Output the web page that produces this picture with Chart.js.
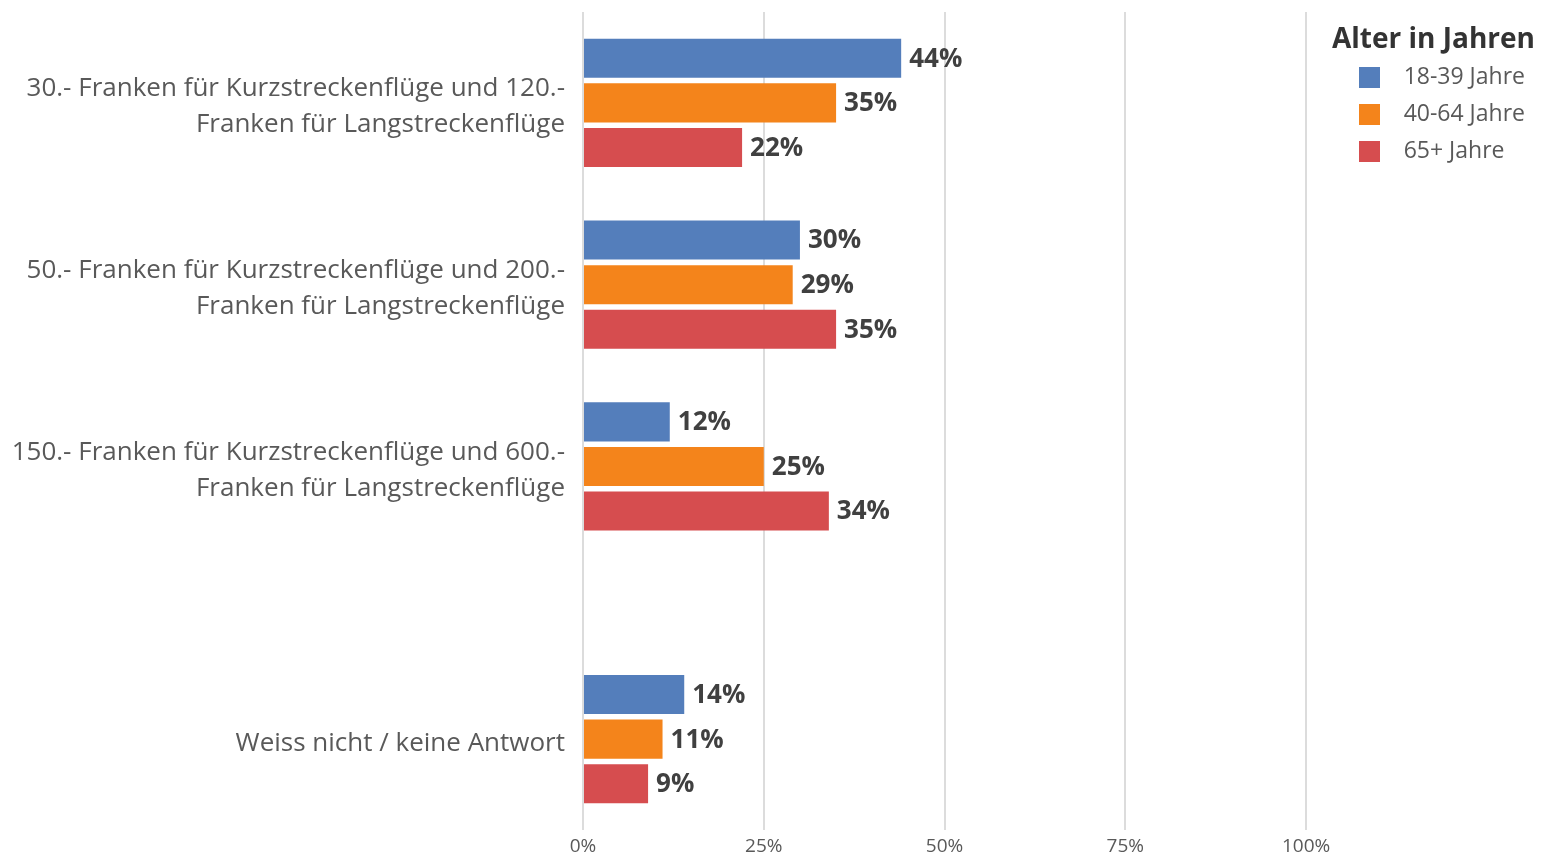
<!DOCTYPE html>
<html>
<head>
<meta charset="utf-8">
<script src="https://cdn.jsdelivr.net/npm/chart.js@4.4.1/dist/chart.umd.min.js"></script>
<style>
html, body { margin: 0; padding: 0; background: #fff; }
#wrap { width: 1541px; height: 853px; }
</style>
</head>
<body>
<div id="wrap"><canvas id="bar-chart"></canvas></div>
<script>
// data
const categories = [
    ['30.- Franken für Kurzstreckenflüge und 120.-', 'Franken für Langstreckenflüge'],
    ['50.- Franken für Kurzstreckenflüge und 200.-', 'Franken für Langstreckenflüge'],
    ['150.- Franken für Kurzstreckenflüge und 600.-', 'Franken für Langstreckenflüge'],
    'Weiss nicht / keine Antwort'
];
const seriesNames = ['18-39 Jahre', '40-64 Jahre', '65+ Jahre'];
const age18to39 = [44, 30, 12, 14];
const age40to64 = [35, 29, 25, 11];
const age65plus = [22, 35, 34, 9];
const xTicks = [0, 25, 50, 75, 100];
const legendTitle = 'Alter in Jahren';

// layout: which row of the axis each category sits on (gap before the last one)
const rowCount = 10;
const rowOf = [1, 3, 5, 8];
const colors = ['#547EBB', '#F4841B', '#D64D4F'];
const font = 'Open Sans';

function spread(values) {
    const out = new Array(rowCount).fill(null);
    rowOf.forEach((r, i) => { out[r] = values[i]; });
    return out;
}

function swatch(color) {
    const c = document.createElement('canvas');
    c.width = 21;
    c.height = 21;
    const g = c.getContext('2d');
    g.fillStyle = color;
    g.fillRect(0, 0, 21, 21);
    return c;
}

const valueLabels = {
    id: 'valueLabels',
    afterDatasetsDraw(chart) {
        const ctx = chart.ctx;
        ctx.save();
        ctx.font = 'bold 26px "' + font + '"';
        ctx.fillStyle = '#404040';
        ctx.textAlign = 'left';
        ctx.textBaseline = 'middle';
        chart.data.datasets.forEach((ds, i) => {
            chart.getDatasetMeta(i).data.forEach((bar, j) => {
                const v = ds.data[j];
                if (v === null || v === undefined) return;
                ctx.fillText(v + '%', bar.x + 8, bar.y + 1);
            });
        });
        ctx.restore();
    }
};

function draw() {
    const ctx = document.getElementById('bar-chart');
    const series = [age18to39, age40to64, age65plus];
    new Chart(ctx, {
        type: 'bar',
        data: {
            labels: spread(categories),
            datasets: series.map((vals, i) => ({
                label: seriesNames[i],
                data: spread(vals),
                backgroundColor: colors[i],
                pointStyle: swatch(colors[i]),
                categoryPercentage: 0.736,
                barPercentage: 0.876
            }))
        },
        options: {
            indexAxis: 'y',
            responsive: true,
            maintainAspectRatio: false,
            animation: false,
            layout: { padding: { top: 12, right: 6, left: 0, bottom: -10 } },
            scales: {
                x: {
                    min: 0,
                    max: 103.6,
                    afterBuildTicks: (scale) => { scale.ticks = xTicks.map(v => ({ value: v })); },
                    grid: { color: '#dcdcdc', lineWidth: 2, drawTicks: false },
                    border: { display: false },
                    ticks: {
                        callback: (v) => v + '%',
                        color: '#595959',
                        font: { family: font, size: 19, lineHeight: 1 },
                        padding: 7
                    }
                },
                y: {
                    type: 'category',
                    offset: false,
                    grid: { display: false, drawTicks: false },
                    border: { display: false },
                    afterFit: (scale) => {
                        scale.width = 583;
                        scale.paddingTop = 0;
                        scale.paddingBottom = 0;
                    },
                    ticks: {
                        autoSkip: false,
                        color: '#595959',
                        font: { family: font, size: 26, lineHeight: 1.385 },
                        padding: 18,
                        labelOffset: 4
                    }
                }
            },
            plugins: {
                tooltip: { enabled: false },
                legend: {
                    position: 'right',
                    align: 'start',
                    title: {
                        display: true,
                        text: legendTitle,
                        position: 'end',
                        color: '#333333',
                        font: { family: font, size: 28, weight: 'bold', lineHeight: 0.93 },
                        padding: { top: 14, bottom: 0 }
                    },
                    labels: {
                        usePointStyle: true,
                        pointStyleWidth: 46,
                        color: '#595959',
                        font: { family: font, size: 23 },
                        padding: 14
                    }
                }
            }
        },
        plugins: [valueLabels]
    });
}

Promise.all([
    document.fonts.load('26px "Open Sans"'),
    document.fonts.load('bold 26px "Open Sans"')
]).then(draw, draw);
</script>
</body>
</html>
